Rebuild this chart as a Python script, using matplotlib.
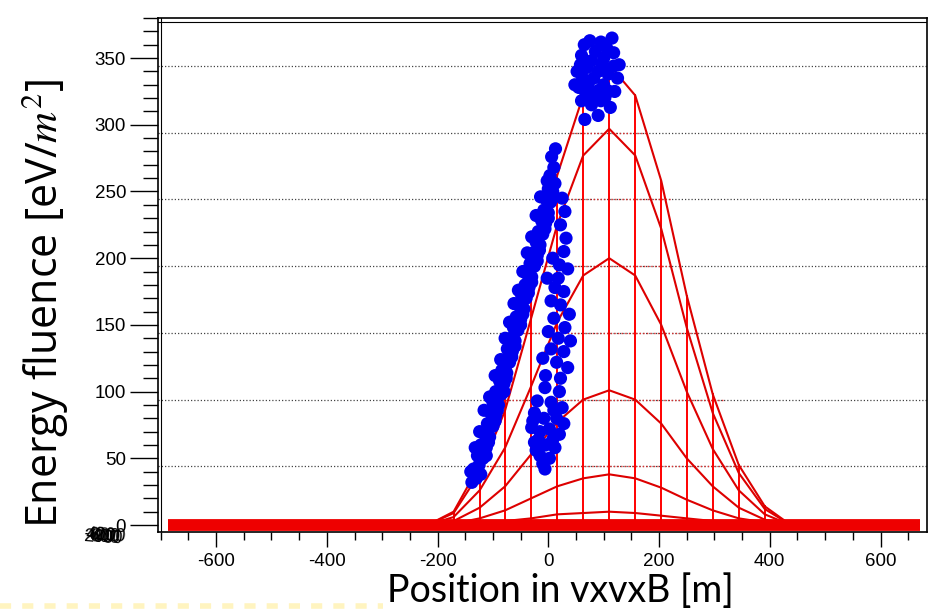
import matplotlib
matplotlib.use("Agg")
import matplotlib.pyplot as plt
import numpy as np

# nodes of the footprint mesh along vxvxB [m]
node_x = [-218, -171, -124, -78, -31, 16, 63, 110, 157, 204, 250, 297, 344, 391, 438]

rows = [
    [0, 10, 45, 100, 180, 262, 322, 345, 322, 258, 172, 98, 45, 14, 0],
    [0, 9, 39, 86, 155, 225, 277, 297, 277, 222, 148, 84, 39, 12, 0],
    [0, 6, 26, 58, 104, 152, 187, 200, 187, 150, 100, 57, 26, 8, 0],
    [0, 3, 13, 29, 53, 77, 94, 101, 94, 76, 50, 29, 13, 4, 0],
    [0, 1, 5, 11, 20, 29, 35, 38, 35, 28, 19, 11, 5, 2, 0],
    [0, 0, 1, 3, 5, 8, 9, 10, 9, 7, 5, 3, 1, 0, 0],
]
flat_x = [-686, 671]

# simulated antenna fluences (x [m], fluence [eV/m^2])
band_left = [(-138, 32), (-130, 35), (-135, 42), (-125, 45), (-128, 52), (-118, 50), (-122, 60),
             (-112, 58), (-115, 68), (-106, 66), (-110, 76), (-100, 74), (-104, 84), (-95, 82),
             (-100, 92), (-90, 90), (-95, 100), (-85, 98), (-88, 108), (-80, 106), (-84, 116),
             (-75, 114), (-78, 124), (-70, 122), (-74, 132), (-65, 130), (-68, 140), (-60, 138),
             (-63, 148), (-55, 146), (-58, 156), (-50, 154), (-52, 164), (-44, 162), (-48, 172),
             (-40, 170), (-42, 180), (-35, 178), (-38, 188), (-30, 186), (-33, 196), (-25, 194),
             (-28, 204), (-20, 202), (-22, 212), (-15, 210), (-18, 220), (-10, 218), (-12, 228),
             (-5, 226), (-8, 236), (0, 234), (-4, 244), (4, 242), (0, 252), (8, 250), (3, 262),
             (10, 268), (6, 276), (13, 282),
             (-122, 38), (-112, 52), (-108, 62), (-96, 78), (-92, 86), (-80, 100), (-76, 110),
             (-66, 126), (-60, 134), (-50, 150), (-46, 158), (-36, 174), (-30, 182), (-20, 198),
             (-16, 206), (-6, 222), (0, 230), (8, 246), (12, 256), (-2, 258),
             (-140, 40), (-132, 58), (-124, 70), (-116, 86), (-106, 96), (-96, 112), (-86, 124),
             (-78, 140), (-70, 152), (-62, 166), (-54, 176), (-46, 190), (-38, 204), (-30, 216),
             (-22, 232), (-14, 246)]
band_right = [(25, 245), (30, 235), (22, 225), (32, 215), (28, 205), (20, 195), (35, 192), (18, 185),
              (12, 178), (28, 175), (5, 168), (22, 165), (38, 158), (10, 155), (30, 148), (0, 145),
              (18, 140), (40, 138), (5, 132), (28, 130), (-10, 125), (15, 122), (35, 118), (-5, 112),
              (22, 110), (-6, 103), (20, 100), (-20, 93), (5, 92), (25, 88), (-25, 84), (-8, 80),
              (15, 80), (-30, 73), (-15, 70), (2, 72), (20, 68), (-25, 62), (-5, 60), (12, 58),
              (-15, 52), (2, 50), (-6, 42),
              (-2, 185), (8, 200), (-28, 78), (10, 86), (-18, 64), (8, 64), (-10, 46), (28, 76),
              (-22, 56)]
peak = [(75, 363), (115, 365), (60, 352), (85, 355), (100, 350), (118, 354), (128, 345), (52, 340),
        (70, 343), (90, 340), (108, 338), (125, 335), (55, 328), (72, 330), (92, 326), (110, 325),
        (60, 318), (78, 315), (95, 318), (112, 313), (82, 322), (66, 304), (90, 307),
        (65, 360), (95, 362), (105, 358), (78, 348), (98, 345), (62, 335), (82, 335), (118, 344),
        (100, 330), (120, 325), (68, 322), (102, 320), (58, 345), (48, 330)]

y_ticks = [0, 50, 100, 150, 200, 250, 300, 350]
x_ticks = [-600, -400, -200, 0, 200, 400, 600]
grid_levels = [44, 94, 144, 194, 244, 294, 344]

plt.rcParams["mathtext.fontset"] = "stix"
fig = plt.figure(figsize=(9.33, 6.14), dpi=100)
ax = fig.add_axes([0.1693, 0.1336, 0.8243, 0.837])
ax.set_xlim(-705, 684)
ax.set_ylim(-5.2, 380)

# back wall grid
for g in grid_levels:
    ax.axhline(g, color="#444444", lw=0.9, ls=(0, (1, 1.6)), zorder=1)
env = np.max(np.array(rows), axis=0)
for g in grid_levels:
    inside = [x for x, h in zip(node_x, env) if h > g]
    if inside:
        ax.plot([inside[0] - 20, inside[-1] + 20], [g, g], color="#e03030",
                lw=1.0, ls=(0, (1, 1.6)), zorder=1.5)

# footprint mesh
for x, h in zip(node_x, env):
    ax.plot([x, x], [0, h], color="#ff0000", lw=1.4, zorder=2)
for r in rows:
    ax.plot(node_x, r, color="#dd0000", lw=1.5, zorder=2)
ax.plot(flat_x, [0, 0], color="#ee0000", lw=8.5, solid_capstyle="butt", zorder=3)

for pts in (band_left, band_right, peak):
    xs, ys = zip(*pts)
    ax.scatter(xs, ys, s=90, color="#0000ee", edgecolors="none", zorder=4)

tick_font = {"family": "Liberation Sans", "size": 13.5}
ax.set_xticks(x_ticks)
ax.set_xticklabels([str(v) for v in x_ticks], fontdict=tick_font)
ax.set_xticks(np.arange(-700, 680, 50), minor=True)
ax.set_yticks(y_ticks)
ax.set_yticklabels([str(v) for v in y_ticks], fontdict=tick_font)
ax.set_yticks(np.arange(0, 381, 10), minor=True)
ax.tick_params(axis="x", which="major", direction="out", length=11, width=1, pad=4)
ax.tick_params(axis="x", which="minor", direction="out", length=6, width=1)
ax.tick_params(axis="y", which="major", direction="out", length=20, width=1, pad=3)
ax.tick_params(axis="y", which="minor", direction="out", length=11, width=1)
for sp in ax.spines.values():
    sp.set_linewidth(1.2)
ax.axhline(377, color="black", lw=0.8, zorder=1)
ax.axvline(-700, color="black", lw=0.8, zorder=1)

# collapsed labels of the depth axis
for i, t in enumerate(["-600", "-400", "-200", "200", "400", "600"]):
    fig.text(0.089 + 0.003 * (i % 3), 0.128 - 0.004 * (i % 2), t, fontsize=13,
             family="Liberation Sans", ha="left", va="center", rotation=-4)

ax.set_xlabel("Position in vxvxB [m]", family="Lato", fontsize=27)
ax.xaxis.set_label_coords(0.523, -0.08)
ax.set_ylabel("Energy fluence [eV/$m^2$]", family="Open Sans", fontsize=31)
ax.yaxis.set_label_coords(-0.113, 0.444)

fig.add_artist(plt.Line2D([0, 0.41], [0.013, 0.013], color="#fff4c0", lw=4,
                          ls=(0, (2, 2)), transform=fig.transFigure))

fig.savefig("out.png", dpi=100)
